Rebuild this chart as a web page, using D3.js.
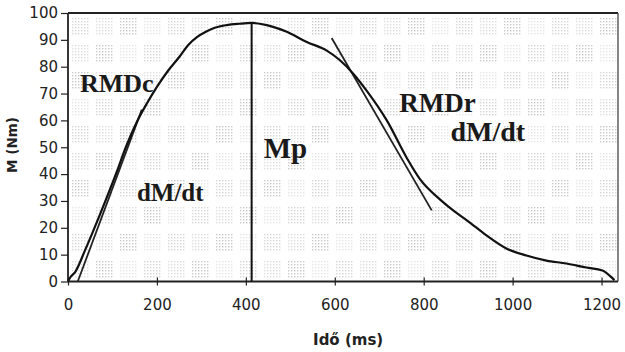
<!DOCTYPE html>
<html>
<head>
<meta charset="utf-8">
<script src="https://cdn.jsdelivr.net/npm/d3@7"></script>
<style>
body { margin: 0; background: #fff; }
</style>
</head>
<body>
<script>
// Torque curve. time in ms, torque in Nm.
var timeMs   = [0, 5, 16, 38, 72, 110, 130, 155, 178, 200, 225, 252, 270, 290, 310, 330, 357, 385, 413, 447, 492, 537, 582, 611, 641, 672, 717, 762, 792, 837, 870, 897, 941, 986, 1031, 1076, 1121, 1166, 1202, 1218, 1229];
var torqueNm = [0, 1.5, 3.5, 11.5, 25, 41, 50, 59.5, 66.5, 72.5, 78.5, 84, 88, 91, 93, 94.5, 95.5, 96, 96.3, 95.5, 93, 89.2, 86, 82.5, 77.5, 71, 60, 46, 38, 30.5, 26, 22.8, 17.2, 12.3, 9.7, 7.8, 6.7, 5.2, 4.1, 2.2, 0.5];

// tangent lines (RMDc rising, RMDr falling) and the peak marker
var riseTanT = [22, 166];
var riseTanM = [0, 64];
var fallTanT = [593, 818];
var fallTanM = [90.7, 26.5];
var peakT = 413;
var peakM = 96.3;

var xTicks = [0, 200, 400, 600, 800, 1000, 1200];
var yTicks = [0, 10, 20, 30, 40, 50, 60, 70, 80, 90, 100];
var xTitle = 'Idő (ms)';
var yTitle = 'M (Nm)';

// annotations: text, time, torque (baseline position in data units)
var noteText = ['RMDc', 'dM/dt', 'Mp', 'RMDr', 'dM/dt'];
var noteT    = [27, 155, 440, 745, 860];
var noteM    = [70.5, 30, 46, 63, 52.5];
var noteSize = [26, 25, 29, 27, 28];

var W = 625, H = 352;
var plot = {left: 68, right: 618, top: 13, bottom: 281.5};

var svg = d3.select('body').append('svg')
	.attr('width', W)
	.attr('height', H);

var x = d3.scaleLinear().domain([0, 1237]).range([plot.left, plot.right]);
var y = d3.scaleLinear().domain([0, 100]).range([plot.bottom, plot.top]);

// The scan has a blotchy halftone texture behind the plot. Fake it.
var defs = svg.append('defs');
var pat = defs.append('pattern')
	.attr('id', 'dots')
	.attr('width', 3).attr('height', 3)
	.attr('patternUnits', 'userSpaceOnUse');
pat.append('rect').attr('width', 1.4).attr('height', 1.4).attr('fill', '#888');

var tex = svg.append('g').attr('class', 'texture');
for (var i = 0; i < 23; i++) {
	for (var j = 0; j < 10; j++) {
		var shade = [0.35, 0.22, 0.45, 0.28][(i * 7 + j * 3) % 4];
		tex.append('rect')
			.attr('x', plot.left + 4 + i * 24)
			.attr('y', plot.top + 4 + j * 27)
			.attr('width', 18)
			.attr('height', 19)
			.attr('fill', 'url(#dots)')
			.attr('opacity', shade);
	}
}

// frame
svg.append('line')
	.attr('x1', plot.left).attr('x2', plot.right)
	.attr('y1', plot.top).attr('y2', plot.top)
	.attr('stroke', '#222').attr('stroke-width', 2.2);
svg.append('line')
	.attr('x1', plot.right).attr('x2', plot.right)
	.attr('y1', plot.top).attr('y2', plot.bottom)
	.attr('stroke', '#444').attr('stroke-width', 1.3);

// axes
var xAxis = d3.axisBottom(x).tickValues(xTicks).tickFormat(d3.format('d')).tickSize(4).tickPadding(14);
var yAxis = d3.axisLeft(y).tickValues(yTicks).tickFormat(d3.format('d')).tickSize(7).tickPadding(3);

var gx = svg.append('g')
	.attr('transform', 'translate(0,' + plot.bottom + ')')
	.call(xAxis);
var gy = svg.append('g')
	.attr('transform', 'translate(' + plot.left + ',0)')
	.call(yAxis);

[gx, gy].forEach(function(g) {
	g.select('.domain').remove();
	g.selectAll('.tick line').attr('stroke', '#222').attr('stroke-width', 1.2);
	g.selectAll('.tick text')
		.attr('fill', '#222')
		.style('font-family', '"DejaVu Sans", sans-serif')
		.style('font-size', '15px');
});
// x ticks cross the axis a bit
gx.selectAll('.tick line').attr('y1', -4);

svg.append('line')
	.attr('x1', plot.left).attr('x2', plot.right)
	.attr('y1', plot.bottom).attr('y2', plot.bottom)
	.attr('stroke', '#222').attr('stroke-width', 2);
svg.append('line')
	.attr('x1', plot.left).attr('x2', plot.left)
	.attr('y1', plot.top).attr('y2', plot.bottom)
	.attr('stroke', '#222').attr('stroke-width', 1.8);

// axis titles
svg.append('text')
	.attr('x', x(630))
	.attr('y', 345)
	.attr('text-anchor', 'middle')
	.attr('fill', '#222')
	.style('font-family', '"DejaVu Sans", sans-serif')
	.style('font-weight', 'bold')
	.style('font-size', '15px')
	.text(xTitle);

svg.append('text')
	.attr('transform', 'translate(17,' + 145 + ') rotate(-90)')
	.attr('text-anchor', 'middle')
	.attr('fill', '#222')
	.style('font-family', '"DejaVu Sans", sans-serif')
	.style('font-weight', 'bold')
	.style('font-size', '13.5px')
	.text(yTitle);

// tangents
var line = d3.line()
	.x(function(d) { return x(d[0]); })
	.y(function(d) { return y(d[1]); });

svg.append('path')
	.datum(d3.zip(riseTanT, riseTanM))
	.attr('d', line)
	.attr('fill', 'none')
	.attr('stroke', '#222')
	.attr('stroke-width', 1.8);

svg.append('path')
	.datum(d3.zip(fallTanT, fallTanM))
	.attr('d', line)
	.attr('fill', 'none')
	.attr('stroke', '#222')
	.attr('stroke-width', 1.8);

// peak marker
svg.append('line')
	.attr('x1', x(peakT)).attr('x2', x(peakT))
	.attr('y1', y(0)).attr('y2', y(peakM))
	.attr('stroke', '#111')
	.attr('stroke-width', 2);

// the torque curve
svg.append('path')
	.datum(d3.zip(timeMs, torqueNm))
	.attr('d', line.curve(d3.curveMonotoneX))
	.attr('fill', 'none')
	.attr('stroke', '#111')
	.attr('stroke-width', 2.2)
	.attr('stroke-linejoin', 'round');

// labels
svg.selectAll('text.note')
	.data(noteText)
	.enter().append('text')
	.attr('class', 'note')
	.attr('x', function(d, i) { return x(noteT[i]); })
	.attr('y', function(d, i) { return y(noteM[i]); })
	.attr('fill', '#1a1a1a')
	.style('font-family', '"Liberation Serif", "Times New Roman", serif')
	.style('font-weight', 'bold')
	.style('font-size', function(d, i) { return noteSize[i] + 'px'; })
	.text(function(d) { return d; });
</script>
</body>
</html>
